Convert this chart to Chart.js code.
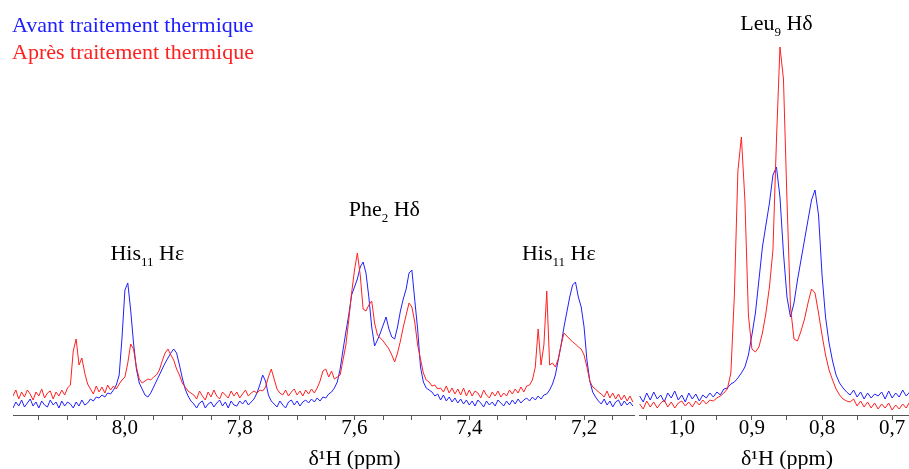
<!DOCTYPE html>
<html lang="fr">
<head>
<meta charset="utf-8">
<script src="https://cdn.jsdelivr.net/npm/chart.js@4.4.1/dist/chart.umd.min.js"></script>
<style>
  html, body { margin: 0; padding: 0; background: #fff; }
  #wrap { position: relative; width: 909px; height: 469px; overflow: hidden; }
  #leftBox { position: absolute; left: 0; top: 0; width: 636px; height: 469px; }
  #rightBox { position: absolute; left: 636px; top: 0; width: 273px; height: 469px; }
  .legend { position: absolute; left: 12px; font-family: "Liberation Serif", "Times New Roman", serif; font-size: 22px; line-height: 22px; white-space: nowrap; }
</style>
</head>
<body>
<div id="wrap">
  <div id="leftBox"><canvas id="leftChart"></canvas></div>
  <div id="rightBox"><canvas id="rightChart"></canvas></div>
  <div class="legend" style="top:14px; color:#2020ff">Avant traitement thermique</div>
  <div class="legend" style="top:41px; color:#ff2020">Après traitement thermique</div>
</div>
<script>
// aromatic region, delta 1H (ppm), sampled every 0.005 ppm
const leftPpm = [
  8.195,8.19,8.185,8.18,8.175,8.17,8.165,8.16,8.155,8.15,
  8.145,8.14,8.135,8.13,8.125,8.12,8.115,8.11,8.105,8.1,
  8.095,8.09,8.085,8.08,8.075,8.07,8.065,8.06,8.055,8.05,
  8.045,8.04,8.035,8.03,8.025,8.02,8.015,8.01,8.005,8.0,
  7.995,7.99,7.985,7.98,7.975,7.97,7.965,7.96,7.955,7.95,
  7.945,7.94,7.935,7.93,7.925,7.92,7.915,7.91,7.905,7.9,
  7.895,7.89,7.885,7.88,7.875,7.87,7.865,7.86,7.855,7.85,
  7.845,7.84,7.835,7.83,7.825,7.82,7.815,7.81,7.805,7.8,
  7.795,7.79,7.785,7.78,7.775,7.77,7.765,7.76,7.755,7.75,
  7.745,7.74,7.735,7.73,7.725,7.72,7.715,7.71,7.705,7.7,
  7.695,7.69,7.685,7.68,7.675,7.67,7.665,7.66,7.655,7.65,
  7.645,7.64,7.635,7.63,7.625,7.62,7.615,7.61,7.605,7.6,
  7.595,7.59,7.585,7.58,7.575,7.57,7.565,7.56,7.555,7.55,
  7.545,7.54,7.535,7.53,7.525,7.52,7.515,7.51,7.505,7.5,
  7.495,7.49,7.485,7.48,7.475,7.47,7.465,7.46,7.455,7.45,
  7.445,7.44,7.435,7.43,7.425,7.42,7.415,7.41,7.405,7.4,
  7.395,7.39,7.385,7.38,7.375,7.37,7.365,7.36,7.355,7.35,
  7.345,7.34,7.335,7.33,7.325,7.32,7.315,7.31,7.305,7.3,
  7.295,7.29,7.285,7.28,7.275,7.27,7.265,7.26,7.255,7.25,
  7.245,7.24,7.235,7.23,7.225,7.22,7.215,7.21,7.205,7.2,
  7.195,7.19,7.185,7.18,7.175,7.17,7.165,7.16,7.155,7.15,
  7.145,7.14,7.135,7.13,7.125,7.12,7.115
];
// intensity (a.u.) before heating - blue
const leftAvant = [
  7,13,9,15,8,12,16,9,13,7,
  14,10,8,15,10,13,7,14,9,13,
  11,7,13,9,15,10,12,16,14,18,
  17,20,18,22,21,25,30,40,78,125,
  132,105,72,46,32,26,20,18,22,28,
  34,40,46,52,57,62,66,62,50,37,
  26,19,14,11,7,12,14,7,11,13,
  8,12,15,9,13,7,14,10,9,14,
  11,15,10,13,16,22,30,40,34,20,
  14,11,8,14,10,7,13,15,10,14,
  9,13,15,12,16,13,17,14,18,17,
  21,23,27,33,46,65,83,100,120,128,
  136,148,153,142,118,88,69,75,82,90,
  98,86,78,76,88,104,116,126,142,145,
  115,86,48,33,27,25,23,19,21,15,
  20,14,18,13,17,12,16,11,15,10,
  14,9,15,12,8,14,10,13,9,15,
  12,9,14,10,15,11,16,12,15,17,
  14,18,15,19,16,20,21,25,31,40,
  55,70,88,103,118,130,133,118,108,88,
  55,34,23,18,14,11,16,10,14,8,
  13,15,9,14,10,13,9
];
// intensity (a.u.) after heating - red
const leftApres = [
  19,25,16,23,18,25,21,15,23,19,
  26,17,22,24,16,23,19,25,20,27,
  30,64,76,50,57,42,31,26,21,29,
  23,28,22,30,25,29,26,31,35,38,
  52,71,66,48,36,32,34,36,35,38,
  40,45,54,62,66,60,55,46,40,32,
  28,24,22,20,16,24,19,15,23,18,
  25,19,16,23,20,17,24,19,23,17,
  21,25,19,22,24,22,25,24,28,38,
  46,36,26,22,20,25,19,23,26,20,
  24,19,25,21,26,22,27,34,44,46,
  38,44,36,38,40,55,70,95,122,145,
  162,140,106,104,110,114,92,80,77,74,
  70,66,60,53,62,74,88,100,112,108,
  93,70,56,42,35,33,29,30,26,27,
  23,29,22,27,21,26,20,27,19,25,
  19,24,22,17,25,20,17,23,19,24,
  18,22,19,25,21,26,22,28,23,29,
  30,35,48,86,50,70,124,50,52,48,
  56,70,82,79,76,73,71,68,66,60,
  48,34,28,26,23,21,18,24,17,22,
  16,21,15,20,14,19,13
];

// methyl region
const rightPpm = [
  1.06,1.055,1.05,1.045,1.04,1.035,1.03,1.025,1.02,1.015,
  1.01,1.005,1.0,0.995,0.99,0.985,0.98,0.975,0.97,0.965,
  0.96,0.955,0.95,0.945,0.94,0.935,0.93,0.925,0.92,0.915,
  0.91,0.905,0.9,0.895,0.89,0.885,0.88,0.875,0.87,0.865,
  0.86,0.855,0.85,0.845,0.84,0.835,0.83,0.825,0.82,0.815,
  0.81,0.805,0.8,0.795,0.79,0.785,0.78,0.775,0.77,0.765,
  0.76,0.755,0.75,0.745,0.74,0.735,0.73,0.725,0.72,0.715,
  0.71,0.705,0.7,0.695,0.69,0.685,0.68,0.675
];
const rightAvant = [
  19,13,22,15,23,16,20,13,22,17,
  24,15,20,13,22,16,21,14,20,17,
  22,18,23,20,26,27,31,33,37,42,
  48,60,80,102,135,168,190,212,240,248,
  218,162,118,98,112,135,155,175,195,215,
  225,200,140,98,72,54,40,32,27,23,
  20,25,18,23,16,22,17,21,19,23,
  16,24,17,22,18,25,19,23
];
const rightApres = [
  11,6,14,8,13,7,12,15,8,13,
  7,12,14,9,13,8,14,10,15,11,
  15,14,17,19,22,26,42,120,244,278,
  215,100,66,63,68,82,102,128,165,275,
  368,336,215,108,76,74,84,96,112,126,
  122,102,80,60,45,35,26,20,16,14,
  13,16,9,14,8,13,7,12,6,11,
  7,12,5,10,6,11,7,13
];

// ticks
const leftTicks = [8.15,8.1,8.05,8.0,7.95,7.9,7.85,7.8,7.75,7.7,7.65,7.6,7.55,7.5,7.45,7.4,7.35,7.3,7.25,7.2,7.15];
const leftMajor = [8.0, 7.8, 7.6, 7.4, 7.2];
const leftMajorLabels = ['8,0', '7,8', '7,6', '7,4', '7,2'];
const rightTicks = [1.05,1.0,0.95,0.9,0.85,0.8,0.75,0.7];
const rightMajor = [1.0, 0.9, 0.8, 0.7];
const rightMajorLabels = ['1,0', '0,9', '0,8', '0,7'];

// peak assignments
const leftPeakNames = ['His', 'Phe', 'His'];
const leftPeakSubs = ['11', '2', '11'];
const leftPeakProtons = ['Hε', 'Hδ', 'Hε'];
const leftPeakPpm = [7.961, 7.548, 7.244];
const leftPeakHeight = [155, 199, 155];
const rightPeakNames = ['Leu'];
const rightPeakSubs = ['9'];
const rightPeakProtons = ['Hδ'];
const rightPeakPpm = [0.865];
const rightPeakHeight = [385];

const axisTitle = 'δ¹H (ppm)';
const SERIF = '"Liberation Serif", "Times New Roman", serif';
const BLUE = '#2020ff';
const RED = '#ff2020';

function toXY(xs, ys) {
    return xs.map((x, i) => ({ x: x, y: ys[i] }));
}

function drawPeakLabel(ctx, cx, baseY, name, sub, tail) {
    const big = '22px ' + SERIF;
    const small = '13px ' + SERIF;
    ctx.font = big;
    const w1 = ctx.measureText(name).width;
    const w3 = ctx.measureText(' ' + tail).width;
    ctx.font = small;
    const w2 = ctx.measureText(sub).width;
    let x = cx - (w1 + w2 + w3) / 2;
    ctx.textAlign = 'left';
    ctx.textBaseline = 'alphabetic';
    ctx.fillStyle = '#000';
    ctx.font = big;
    ctx.fillText(name, x, baseY);
    x += w1;
    ctx.font = small;
    ctx.fillText(sub, x, baseY + 6);
    x += w2;
    ctx.font = big;
    ctx.fillText(' ' + tail, x, baseY);
}

// labels des pics + titre de l'axe
const spectrumText = {
    id: 'spectrumText',
    afterDraw(chart, args, opts) {
        const { ctx } = chart;
        const xs = chart.scales.x, ys = chart.scales.y;
        ctx.save();
        opts.names.forEach((n, i) => {
            drawPeakLabel(ctx, xs.getPixelForValue(opts.ppm[i]), ys.getPixelForValue(opts.height[i]),
                n, opts.subs[i], opts.protons[i]);
        });
        ctx.font = '22px ' + SERIF;
        ctx.fillStyle = '#000';
        ctx.textAlign = 'center';
        ctx.textBaseline = 'alphabetic';
        ctx.fillText(axisTitle, xs.getPixelForValue(opts.titleAt), 465);
        ctx.restore();
    }
};

function makeChart(id, ppm, avant, apres, xmin, xmax, ticks, major, majorLabels, padding, textOpts) {
    return new Chart(document.getElementById(id), {
        type: 'line',
        data: {
            datasets: [
                { label: 'Après traitement thermique', data: toXY(ppm, apres), borderColor: RED, borderWidth: 1, pointRadius: 0 },
                { label: 'Avant traitement thermique', data: toXY(ppm, avant), borderColor: BLUE, borderWidth: 1, pointRadius: 0 }
            ]
        },
        options: {
            responsive: true,
            maintainAspectRatio: false,
            animation: false,
            layout: { padding: padding },
            plugins: {
                legend: { display: false },
                tooltip: { enabled: false },
                spectrumText: textOpts
            },
            scales: {
                x: {
                    type: 'linear',
                    reverse: true,
                    min: xmin,
                    max: xmax,
                    afterBuildTicks: axis => { axis.ticks = ticks.map(v => ({ value: v })); },
                    afterFit: s => { s.height = 54; },
                    ticks: {
                        autoSkip: false,
                        maxRotation: 0,
                        padding: -4,
                        color: '#000',
                        font: { family: SERIF, size: 21 },
                        callback: v => {
                            const k = major.findIndex(m => Math.abs(m - v) < 1e-6);
                            return k >= 0 ? majorLabels[k] : '';
                        }
                    },
                    grid: { drawOnChartArea: false, drawTicks: true, tickLength: 5, color: '#555' },
                    border: { display: true, color: '#555', width: 1 }
                },
                y: { display: false, min: 0, max: 400 }
            }
        },
        plugins: [spectrumText]
    });
}

makeChart('leftChart', leftPpm, leftAvant, leftApres, 7.113, 8.195, leftTicks, leftMajor, leftMajorLabels,
    { left: 13, right: 2, top: 15, bottom: 0 },
    { names: leftPeakNames, subs: leftPeakSubs, protons: leftPeakProtons, ppm: leftPeakPpm, height: leftPeakHeight, titleAt: 7.6 });

makeChart('rightChart', rightPpm, rightAvant, rightApres, 0.676, 1.061, rightTicks, rightMajor, rightMajorLabels,
    { left: 3, right: 0, top: 15, bottom: 0 },
    { names: rightPeakNames, subs: rightPeakSubs, protons: rightPeakProtons, ppm: rightPeakPpm, height: rightPeakHeight, titleAt: 0.85 });
</script>
</body>
</html>
